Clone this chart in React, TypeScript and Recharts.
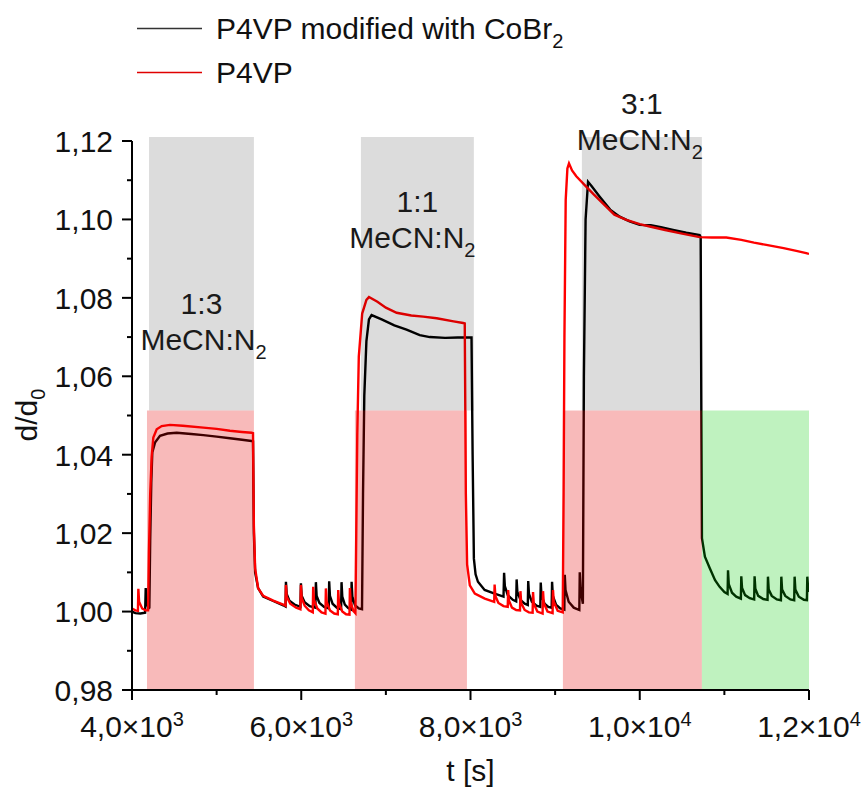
import { LineChart, Line, XAxis, YAxis, ReferenceArea } from 'recharts';

const FONT = '"Liberation Sans", Arial, Helvetica, sans-serif';

// [t (s), d/d0] – P4VP film modified with CoBr2
const cobrTrace: [number, number][] = [
  [4000, 1.0], [4040, 0.9996], [4100, 0.9995], [4155, 0.9997], [4162, 1.006], [4170, 1.0025], [4195, 1.0008],
  [4205, 1.001], [4215, 1.018], [4228, 1.033], [4240, 1.0406], [4272, 1.0431], [4331, 1.0448], [4420, 1.0454],
  [4528, 1.0456], [4700, 1.0453], [4843, 1.045], [5000, 1.0446], [5157, 1.0442], [5300, 1.0438], [5413, 1.0435],
  [5430, 1.0434], [5440, 1.02], [5455, 1.01], [5490, 1.006], [5550, 1.0038], [5669, 1.0027], [5787, 1.0016],
  [5814, 1.0013], [5819, 1.0076], [5828, 1.0045], [5860, 1.0028], [5920, 1.0018], [5990, 1.0012],
  [5996, 1.0072], [6005, 1.004], [6040, 1.0024], [6100, 1.0014], [6167, 1.001],
  [6173, 1.0075], [6182, 1.004], [6215, 1.0022], [6270, 1.0012], [6325, 1.0008],
  [6330, 1.0077], [6339, 1.004], [6370, 1.002], [6420, 1.001], [6471, 1.0006],
  [6476, 1.0075], [6485, 1.0038], [6515, 1.0018], [6555, 1.0009], [6590, 1.0005],
  [6595, 1.0076], [6604, 1.0038], [6635, 1.0016], [6680, 1.0008], [6718, 1.0006],
  [6730, 1.03], [6745, 1.055], [6770, 1.069], [6800, 1.0745], [6831, 1.0756], [6950, 1.0745], [7100, 1.073],
  [7244, 1.0719], [7400, 1.0705], [7519, 1.07], [7700, 1.0698], [7850, 1.0699], [8012, 1.0699],
  [8025, 1.04], [8040, 1.0135], [8060, 1.0095], [8088, 1.0076], [8167, 1.0055], [8285, 1.0046], [8390, 1.0038],
  [8397, 1.0099], [8406, 1.0065], [8440, 1.0042], [8500, 1.003], [8540, 1.0026],
  [8545, 1.0082], [8554, 1.005], [8590, 1.003], [8640, 1.002], [8677, 1.0017],
  [8682, 1.0078], [8691, 1.0045], [8725, 1.0025], [8780, 1.0015], [8825, 1.0012],
  [8830, 1.0074], [8839, 1.004], [8875, 1.002], [8920, 1.0012], [8959, 1.001],
  [8964, 1.0076], [8973, 1.004], [9010, 1.0018], [9060, 1.0008], [9109, 1.0005],
  [9114, 1.0094], [9123, 1.0055], [9160, 1.0025], [9220, 1.001], [9286, 1.0004],
  [9291, 1.01], [9300, 1.006], [9320, 1.003], [9328, 1.002],
  [9340, 1.06], [9360, 1.1], [9389, 1.1096], [9430, 1.1085], [9527, 1.1058], [9650, 1.1025], [9763, 1.1007],
  [9880, 1.0995], [9999, 1.0986], [10130, 1.0985], [10250, 1.098], [10393, 1.0973], [10550, 1.0966],
  [10708, 1.096], [10720, 1.0955], [10728, 1.05], [10735, 1.0187], [10770, 1.014], [10829, 1.011],
  [10890, 1.008], [10944, 1.0063], [11000, 1.005], [11038, 1.0045],
  [11043, 1.0105], [11052, 1.007], [11090, 1.0048], [11140, 1.0038], [11195, 1.0033],
  [11200, 1.009], [11209, 1.006], [11245, 1.0042], [11300, 1.0034], [11352, 1.0031],
  [11357, 1.009], [11366, 1.0058], [11400, 1.004], [11460, 1.0032], [11510, 1.003],
  [11515, 1.0089], [11524, 1.0056], [11560, 1.004], [11620, 1.0031], [11668, 1.0029],
  [11673, 1.0089], [11682, 1.0056], [11720, 1.004], [11780, 1.0031], [11825, 1.0029],
  [11830, 1.0089], [11839, 1.0056], [11880, 1.0038], [11940, 1.003], [11975, 1.0029],
  [11980, 1.0089], [11990, 1.0058], [12000, 1.005],
];

// [t (s), d/d0] – plain P4VP film
const p4vpTrace: [number, number][] = [
  [4000, 1.0008], [4040, 1.0003], [4070, 1.0002], [4075, 1.0058], [4084, 1.0025], [4120, 1.0008], [4160, 1.0003],
  [4190, 1.0003], [4200, 1.015], [4215, 1.03], [4233, 1.0397], [4252, 1.0444], [4292, 1.0465], [4351, 1.0473],
  [4449, 1.0476], [4600, 1.0474], [4843, 1.0469], [5000, 1.0466], [5157, 1.0461], [5300, 1.0458], [5413, 1.0456],
  [5430, 1.0455], [5440, 1.022], [5455, 1.011], [5490, 1.006], [5550, 1.004], [5669, 1.0028], [5787, 1.0018],
  [5814, 1.0015], [5819, 1.0068], [5828, 1.0038], [5870, 1.002], [5940, 1.001], [5990, 1.0006],
  [5996, 1.0068], [6005, 1.0035], [6040, 1.0015], [6090, 1.0003], [6136, 0.9998],
  [6141, 1.0063], [6150, 1.003], [6190, 1.0008], [6240, 0.9998], [6286, 0.9995],
  [6291, 1.0059], [6300, 1.0025], [6340, 1.0003], [6390, 0.9995], [6432, 0.9993],
  [6437, 1.0055], [6446, 1.0022], [6485, 1.0], [6530, 0.9993], [6570, 0.9992],
  [6575, 1.006], [6584, 1.0025], [6615, 1.0002], [6640, 0.9996],
  [6650, 1.02], [6662, 1.045], [6680, 1.065], [6720, 1.076], [6770, 1.0795], [6800, 1.0802], [6900, 1.079],
  [7000, 1.0775], [7127, 1.0762], [7300, 1.0755], [7441, 1.0752], [7600, 1.0748], [7800, 1.074], [7913, 1.0736],
  [7932, 1.0735], [7945, 1.03], [7960, 1.012], [7992, 1.0067], [8051, 1.0046], [8169, 1.0033], [8280, 1.0025],
  [8285, 1.0069], [8294, 1.004], [8330, 1.0022], [8390, 1.0014], [8440, 1.0012],
  [8445, 1.0055], [8454, 1.0028], [8490, 1.001], [8540, 1.0004], [8585, 1.0003],
  [8590, 1.0052], [8599, 1.0022], [8640, 1.0004], [8690, 0.9998], [8734, 0.9997],
  [8739, 1.005], [8748, 1.002], [8790, 1.0], [8852, 0.9995],
  [8857, 1.0052], [8866, 1.0022], [8910, 1.0], [8970, 0.9996],
  [8975, 1.0055], [8984, 1.0025], [9030, 1.0002], [9090, 0.9998],
  [9100, 1.03], [9110, 1.07], [9125, 1.105], [9145, 1.113], [9164, 1.1143], [9200, 1.1125], [9250, 1.111],
  [9370, 1.1083], [9450, 1.1065], [9606, 1.1032], [9700, 1.1012], [9842, 1.0999], [10000, 1.0988],
  [10118, 1.0982], [10300, 1.0973], [10472, 1.0965], [10708, 1.0955], [10850, 1.0954], [11023, 1.0954],
  [11200, 1.0948], [11350, 1.0941], [11495, 1.0935], [11700, 1.0927], [11850, 1.092], [11967, 1.0914],
  [12000, 1.0912],
];

const series = [
  { key: 'cobr', name: 'P4VP modified with CoBr', sub: '2', color: '#000000', legendColor: '#333333', points: cobrTrace },
  { key: 'p4vp', name: 'P4VP', sub: '', color: '#ff0000', legendColor: '#e00000', points: p4vpTrace },
];

// MeCN:N2 dosing windows (grey, upper part)
const mixWindows = [
  { x1: 4201, x2: 5441, ratio: '1:3' },
  { x1: 6705, x2: 8040, ratio: '1:1' },
  { x1: 9316, x2: 10734, ratio: '3:1' },
];
// vapour / purge windows (lower part)
const vapourWindows = [
  { x1: 4177, x2: 5441 },
  { x1: 6634, x2: 7958 },
  { x1: 9092, x2: 10734 },
];
const purgeWindows = [{ x1: 10734, x2: 12000 }];
const bandSplit = 1.0513;

const xTicks = [4000, 5000, 6000, 7000, 8000, 9000, 10000, 11000, 12000];
const yTicks = [0.98, 0.99, 1.0, 1.01, 1.02, 1.03, 1.04, 1.05, 1.06, 1.07, 1.08, 1.09, 1.1, 1.11, 1.12];

// caption placement (px relative to the top/centre of each grey window)
const captionOffsets = [
  { dy: 166, dx: 2 },
  { dy: 64, dx: -5 },
  { dy: -34, dx: -2 },
];

const FS = 30;

const YTick = ({ x, y, payload }: any) => {
  const v = payload.value as number;
  const major = Math.round(v * 100) % 2 === 0;
  return (
    <g>
      <line x1={x - (major ? 10 : 5)} x2={x} y1={y} y2={y} stroke="#000" strokeWidth={2} />
      {major && (
        <text x={x - 19} y={y} dy="0.36em" textAnchor="end" fontSize={FS} fontFamily={FONT} fill="#111">
          {v.toFixed(2).replace('.', ',')}
        </text>
      )}
    </g>
  );
};

const XTick = ({ x, y, payload }: any) => {
  const v = payload.value as number;
  const major = v % 2000 === 0;
  const exp = Math.floor(Math.log10(v));
  const mant = (v / 10 ** exp).toFixed(1).replace('.', ',');
  return (
    <g>
      <line x1={x} x2={x} y1={y} y2={y + (major ? 10 : 5)} stroke="#000" strokeWidth={2} />
      {major && (
        <text x={x} y={y + 47} textAnchor="middle" fontSize={FS} fontFamily={FONT} fill="#111">
          {mant}×10
          <tspan dy={-11} fontSize={20}>{exp}</tspan>
        </text>
      )}
    </g>
  );
};

const Caption = ({ viewBox, ratio, dy, dx }: any) => {
  if (!viewBox) return null;
  const cx = viewBox.x + viewBox.width / 2;
  const top = viewBox.y + dy;
  return (
    <g fontFamily={FONT} fontSize={FS} fill="#1a1a1a">
      <text x={cx} y={top} dy="0.36em" textAnchor="middle">{ratio}</text>
      <text x={cx + dx} y={top + 36} dy="0.36em" textAnchor="middle">
        MeCN:N<tspan dy={9} fontSize={20}>2</tspan>
      </text>
    </g>
  );
};

const XLabel = ({ viewBox }: any) => (
  <text x={viewBox.x + viewBox.width / 2} y={781} textAnchor="middle" fontSize={FS} fontFamily={FONT} fill="#111">
    t [s]
  </text>
);

const YLabel = () => {
  const cy = 415;
  return (
    <text x={37} y={cy} transform={`rotate(-90 37 ${cy})`} textAnchor="middle" fontSize={FS} fontFamily={FONT} fill="#111">
      d/d<tspan dy={8} fontSize={20}>0</tspan>
    </text>
  );
};

export default function App() {
  return (
    <div style={{ position: 'absolute', left: 0, top: 0, width: 865, height: 789, background: '#fff' }}>
      <LineChart width={865} height={789} margin={{ top: 141, right: 56, left: 52, bottom: 0 }}>
        <XAxis
          type="number"
          dataKey="t"
          domain={[4000, 12000]}
          ticks={xTicks}
          interval={0}
          allowDataOverflow
          tick={<XTick />}
          tickLine={false}
          tickSize={0}
          tickMargin={0}
          height={99}
          axisLine={{ stroke: '#000', strokeWidth: 2 }}
          label={<XLabel />}
        />
        <YAxis
          type="number"
          domain={[0.98, 1.12]}
          ticks={yTicks}
          interval={0}
          allowDataOverflow
          tick={<YTick />}
          tickLine={false}
          tickSize={0}
          tickMargin={0}
          width={80}
          axisLine={{ stroke: '#000', strokeWidth: 2 }}
          label={<YLabel />}
        />
        {series.map((s) => (
          <Line
            key={s.key}
            data={s.points.map(([t, v]) => ({ t, v }))}
            dataKey="v"
            type="linear"
            stroke={s.color}
            strokeWidth={2.4}
            dot={false}
            activeDot={false}
            isAnimationActive={false}
          />
        ))}
        {mixWindows.map((w, i) => (
          <ReferenceArea
            key={`mix-${i}`}
            x1={w.x1}
            x2={w.x2}
            y1={bandSplit}
            y2={1.121}
            fill="#000"
            fillOpacity={0.137}
            stroke="none"
            ifOverflow="visible"
            zIndex={450}
            label={<Caption ratio={w.ratio} dy={captionOffsets[i].dy} dx={captionOffsets[i].dx} />}
          />
        ))}
        {vapourWindows.map((w, i) => (
          <ReferenceArea
            key={`vap-${i}`}
            x1={w.x1}
            x2={w.x2}
            y1={0.98}
            y2={bandSplit}
            fill="#e60000"
            fillOpacity={0.27}
            stroke="none"
            zIndex={450}
          />
        ))}
        {purgeWindows.map((w, i) => (
          <ReferenceArea
            key={`purge-${i}`}
            x1={w.x1}
            x2={w.x2}
            y1={0.98}
            y2={bandSplit}
            fill="#00cc00"
            fillOpacity={0.25}
            stroke="none"
            zIndex={450}
          />
        ))}
      </LineChart>
      <svg width={865} height={100} style={{ position: 'absolute', left: 0, top: 0, pointerEvents: 'none' }}>
        {series.map((s, i) => {
          const y = 28.5 + i * 44;
          return (
            <g key={s.key}>
              <line x1={137} x2={202} y1={y} y2={y} stroke={s.legendColor} strokeWidth={1.4} />
              <text x={216} y={y + 10} fontSize={FS} fontFamily={FONT} fill="#111">
                {s.name}
                {s.sub && <tspan dy={9} fontSize={20}>{s.sub}</tspan>}
              </text>
            </g>
          );
        })}
      </svg>
    </div>
  );
}
